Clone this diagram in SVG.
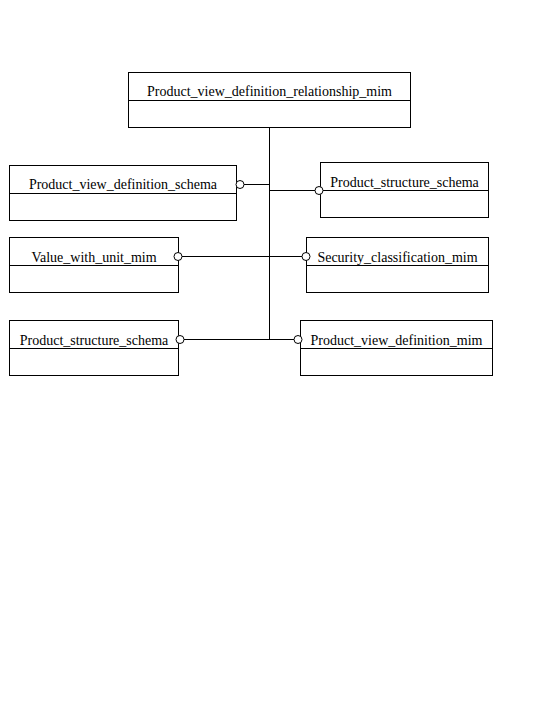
<svg xmlns="http://www.w3.org/2000/svg" width="540" height="720" viewBox="0 0 540 720">
<style>
rect{fill:#fff;stroke:#000;stroke-width:1}
line{stroke:#000;stroke-width:1}
circle{fill:#fff;stroke:#000;stroke-width:1}
text{font-family:"Liberation Serif",serif;font-size:14px;fill:#000;text-anchor:middle}
</style>
<rect x="0" y="0" width="540" height="720" style="stroke:none"/>
<g id="n1">
<rect x="128.5" y="72.5" width="282" height="55"/>
<line x1="128.5" y1="100.5" x2="410.5" y2="100.5"/>
<text x="269.5" y="96">Product_view_definition_relationship_mim</text>
</g>
<g id="n2">
<rect x="9.5" y="165.5" width="227" height="55"/>
<line x1="9.5" y1="193.5" x2="236.5" y2="193.5"/>
<text x="123" y="189">Product_view_definition_schema</text>
</g>
<g id="n3">
<rect x="320.5" y="162.5" width="168" height="55"/>
<line x1="320.5" y1="190.5" x2="488.5" y2="190.5"/>
<text x="404.5" y="187">Product_structure_schema</text>
</g>
<g id="n4">
<rect x="9.5" y="237.5" width="169" height="55"/>
<line x1="9.5" y1="265.5" x2="178.5" y2="265.5"/>
<text x="94" y="262">Value_with_unit_mim</text>
</g>
<g id="n5">
<rect x="306.5" y="237.5" width="182" height="55"/>
<line x1="306.5" y1="265.5" x2="488.5" y2="265.5"/>
<text x="397.5" y="262">Security_classification_mim</text>
</g>
<g id="n6">
<rect x="9.5" y="320.5" width="169" height="55"/>
<line x1="9.5" y1="348.5" x2="178.5" y2="348.5"/>
<text x="94" y="345">Product_structure_schema</text>
</g>
<g id="n7">
<rect x="300.5" y="320.5" width="192" height="55"/>
<line x1="300.5" y1="348.5" x2="492.5" y2="348.5"/>
<text x="396.5" y="345">Product_view_definition_mim</text>
</g>
<g id="connectors">
<line x1="269.5" y1="128" x2="269.5" y2="339.5"/>
<line x1="244" y1="184.5" x2="269.5" y2="184.5"/>
<line x1="269.5" y1="190.5" x2="315" y2="190.5"/>
<line x1="182" y1="256.5" x2="302" y2="256.5"/>
<line x1="184" y1="339.5" x2="294" y2="339.5"/>
<circle cx="240" cy="184.5" r="4"/>
<circle cx="319" cy="190.5" r="4"/>
<circle cx="178" cy="256.5" r="4"/>
<circle cx="306" cy="256.5" r="4"/>
<circle cx="180" cy="339.5" r="4"/>
<circle cx="298" cy="339.5" r="4"/>
</g>
</svg>
